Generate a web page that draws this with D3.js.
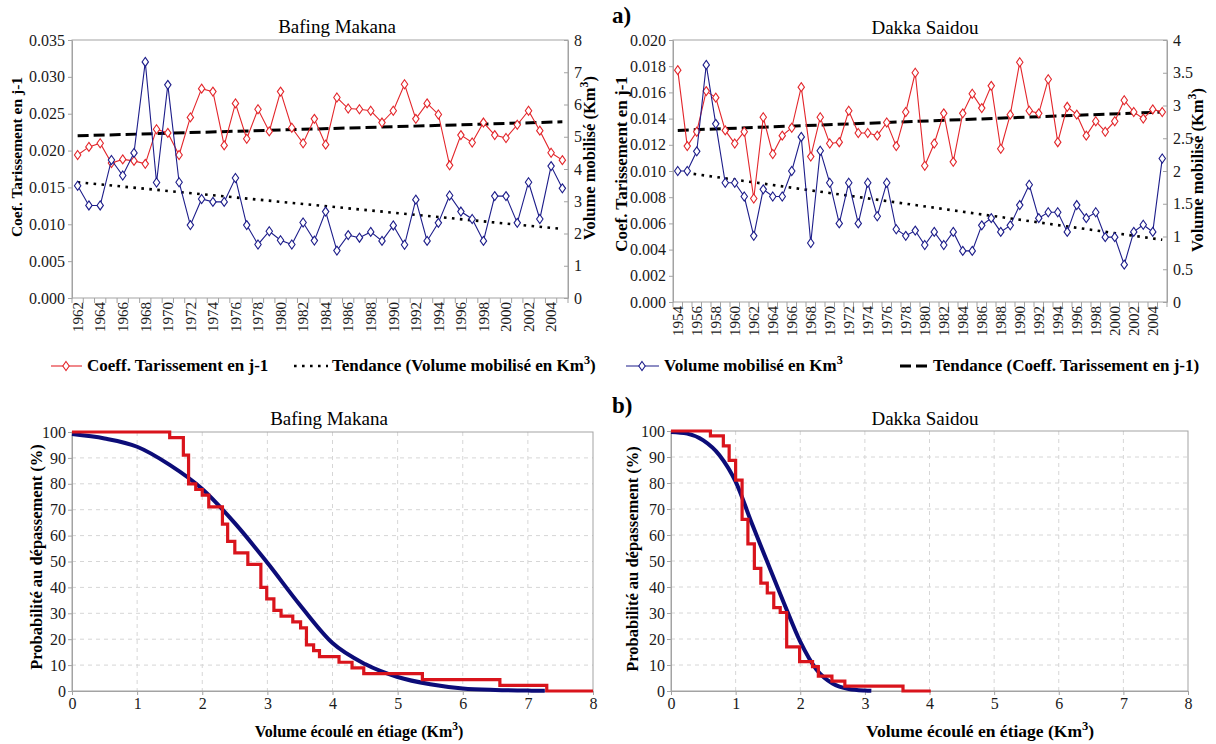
<!DOCTYPE html>
<html>
<head>
<meta charset="utf-8">
<script src="https://cdn.jsdelivr.net/npm/d3@7"></script>
<style>
  body { margin: 0; background: #fff; }
  svg text { font-family: "Liberation Serif", "Times New Roman", serif; }
</style>
</head>
<body>
<svg id="chart" width="1216" height="744"></svg>
<script>
// ---- data: top panels (a) ----
const yearsBafing = d3.range(1962, 2006);
const coeffBafing = [0.0194, 0.0205, 0.0210, 0.0183, 0.0188, 0.0186, 0.0182, 0.0229, 0.0224, 0.0194,
    0.0245, 0.0284, 0.0280, 0.0207, 0.0264, 0.0216, 0.0256, 0.0226, 0.0280, 0.0231,
    0.0210, 0.0243, 0.0208, 0.0272, 0.0257, 0.0256, 0.0254, 0.0238, 0.0254, 0.0290,
    0.0243, 0.0264, 0.0249, 0.0180, 0.0221, 0.0211, 0.0238, 0.0221, 0.0217, 0.0235,
    0.0254, 0.0227, 0.0197, 0.0187];
const volBafing = [3.48, 2.87, 2.87, 4.28, 3.80, 4.50, 7.32, 3.58, 6.61, 3.59,
    2.26, 3.07, 2.98, 2.98, 3.72, 2.26, 1.66, 2.07, 1.79, 1.66,
    2.34, 1.78, 2.68, 1.47, 1.95, 1.87, 2.05, 1.77, 2.25, 1.65,
    3.05, 1.77, 2.33, 3.18, 2.68, 2.45, 1.77, 3.16, 3.16, 2.33,
    3.59, 2.45, 4.09, 3.40];
const trendCoeffBafing = [0.0220, 0.0239];   // first year, last year
const trendVolBafing = [3.59, 2.14];

const yearsDakka = d3.range(1954, 2006);
const coeffDakka = [0.0177, 0.0119, 0.0130, 0.0161, 0.0156, 0.0131, 0.0121, 0.0130, 0.0079, 0.0141,
    0.0113, 0.0127, 0.0133, 0.0164, 0.0111, 0.0141, 0.0121, 0.0122, 0.0146, 0.0129,
    0.0129, 0.0127, 0.0137, 0.0119, 0.0145, 0.0175, 0.0104, 0.0121, 0.0144, 0.0107,
    0.0144, 0.0159, 0.0148, 0.0165, 0.0117, 0.0143, 0.0183, 0.0146, 0.0144, 0.0170,
    0.0122, 0.0149, 0.0143, 0.0127, 0.0138, 0.0130, 0.0138, 0.0154, 0.0145, 0.0140,
    0.0147, 0.0145];
const volDakka = [2.00, 2.00, 2.30, 3.62, 2.72, 1.82, 1.82, 1.61, 1.01, 1.72,
    1.61, 1.61, 2.00, 2.52, 0.90, 2.31, 1.82, 1.20, 1.82, 1.20,
    1.82, 1.31, 1.82, 1.11, 1.01, 1.09, 0.87, 1.07, 0.87, 1.07,
    0.78, 0.78, 1.17, 1.28, 1.07, 1.17, 1.48, 1.79, 1.28, 1.37,
    1.37, 1.07, 1.48, 1.28, 1.37, 0.99, 0.99, 0.57, 1.07, 1.18,
    1.07, 2.19];
const trendCoeffDakka = [0.0131, 0.0145];
const trendVolDakka = [1.99, 0.95];

// ---- data: bottom panels (b) ----
// empirical exceedance (step) : start of each step and its level
const stepBafingX = [0, 1.50, 1.71, 1.79, 1.90, 2.00, 2.10, 2.31, 2.39, 2.50, 2.70, 2.90, 2.99, 3.10,
    3.21, 3.39, 3.51, 3.60, 3.71, 3.80, 4.10, 4.30, 4.48, 5.38, 6.57, 7.29, 8.00];
const stepBafingP = [100, 97.8, 91.1, 80.0, 77.8, 75.6, 71.1, 64.4, 57.8, 53.3, 48.9, 40.0, 35.6, 31.1,
    28.9, 26.7, 24.4, 17.8, 15.6, 13.3, 11.1, 8.9, 6.7, 4.4, 2.2, 0, 0];
// fitted curve
const fitBafingX = [0, 0.5, 1, 1.5, 2, 2.5, 3, 3.5, 4, 4.5, 5, 5.5, 6, 6.5, 7, 7.26];
const fitBafingP = [99.2, 97.5, 94.3, 87.3, 78.0, 64.8, 49.5, 33.2, 18.5, 10.4, 5.4, 2.6, 1.0, 0.4, 0.15, 0.1];

const stepDakkaX = [0, 0.61, 0.81, 0.90, 1.00, 1.10, 1.19, 1.29, 1.39, 1.49, 1.59, 1.69, 1.79, 1.99,
    2.19, 2.28, 2.49, 2.69, 3.59, 4.02];
const stepDakkaP = [100, 98.1, 94.3, 88.7, 81.1, 66.0, 56.6, 47.2, 41.5, 37.7, 32.1, 30.2, 17.0, 11.3,
    9.4, 5.7, 3.8, 1.9, 0, 0];
const fitDakkaX = [0, 0.25, 0.5, 0.75, 1, 1.25, 1.5, 1.75, 2, 2.25, 2.5, 2.75, 3, 3.1];
const fitDakkaP = [99.6, 99.0, 96.4, 90.7, 80.5, 64.5, 49.0, 33.7, 19.0, 8.3, 2.9, 0.8, 0.2, 0.1];

const RED = "#e3262b";
const BLUE = "#1d1d8a";
const AXIS = "#a3a3a3";

const svg = d3.select("#chart");

const diamond = "M0,-4.5L3.2,0L0,4.5L-3.2,0Z";

function styleAxis(g, size) {
    g.attr("font-family", null);
    g.select(".domain").attr("stroke", AXIS);
    g.selectAll(".tick line").attr("stroke", AXIS);
    g.selectAll(".tick text").attr("fill", "#1a1a1a").style("font-size", size + "px");
}

// Km3 style text with superscript
function kmText(sel, before, after) {
    sel.append("tspan").text(before);
    sel.append("tspan").attr("dy", -7).style("font-size", "0.72em").text("3");
    if (after) sel.append("tspan").attr("dy", 7).text(after);
}

function drawTop(o) {
    const x = d3.scalePoint().domain(o.years).range([o.left, o.right]).padding(0.5);
    const yL = d3.scaleLinear().domain([0, o.maxL]).range([o.bottom, o.top]);
    const yR = d3.scaleLinear().domain([0, o.maxR]).range([o.bottom, o.top]);
    const g = svg.append("g");

    g.append("rect")
        .attr("x", o.left).attr("y", o.top)
        .attr("width", o.right - o.left).attr("height", o.bottom - o.top)
        .attr("fill", "none").attr("stroke", AXIS);

    const axL = g.append("g")
        .attr("transform", `translate(${o.left},0)`)
        .call(d3.axisLeft(yL).tickValues(o.ticksL).tickFormat(d3.format(".3f"))
            .tickSizeInner(4).tickSizeOuter(0).tickPadding(3));
    styleAxis(axL, 16);

    const axR = g.append("g")
        .attr("transform", `translate(${o.right},0)`)
        .call(d3.axisRight(yR).tickValues(o.ticksR).tickFormat(d => String(d))
            .tickSizeInner(-4).tickSizeOuter(0).tickPadding(6));
    styleAxis(axR, 16);

    // category ticks between years
    const step = x.step();
    g.append("g").selectAll("line")
        .data(d3.range(o.years.length + 1))
        .join("line")
        .attr("x1", i => o.left + i * step).attr("x2", i => o.left + i * step)
        .attr("y1", o.bottom).attr("y2", o.bottom + 5)
        .attr("stroke", AXIS);

    g.append("g").selectAll("text")
        .data(o.years.filter(yr => (yr - o.years[0]) % 2 === 0))
        .join("text")
        .attr("transform", d => `translate(${x(d)},${o.bottom + 4}) rotate(-90)`)
        .attr("text-anchor", "end")
        .attr("dy", "0.35em")
        .style("font-size", "15px")
        .attr("fill", "#1a1a1a")
        .text(d => d);

    const first = o.years[0], last = o.years[o.years.length - 1];

    // trend of volume (dotted, right axis)
    g.append("path")
        .datum([[first, o.trendVol[0]], [last, o.trendVol[1]]])
        .attr("d", d3.line().x(d => x(d[0])).y(d => yR(d[1])))
        .attr("fill", "none").attr("stroke", "#000").attr("stroke-width", 2.6)
        .attr("stroke-dasharray", "2.6,5.4");

    // trend of coefficient (dashed, left axis)
    g.append("path")
        .datum([[first, o.trendCoeff[0]], [last, o.trendCoeff[1]]])
        .attr("d", d3.line().x(d => x(d[0])).y(d => yL(d[1])))
        .attr("fill", "none").attr("stroke", "#000").attr("stroke-width", 3)
        .attr("stroke-dasharray", "11,5");

    const series = [
        { vals: o.coeff, y: yL, color: RED },
        { vals: o.vol, y: yR, color: BLUE }
    ];
    series.forEach(s => {
        const pts = o.years.map((yr, i) => [yr, s.vals[i]]);
        g.append("path")
            .datum(pts)
            .attr("d", d3.line().x(d => x(d[0])).y(d => s.y(d[1])))
            .attr("fill", "none").attr("stroke", s.color).attr("stroke-width", 1.1);
        g.append("g").selectAll("path")
            .data(pts)
            .join("path")
            .attr("d", diamond)
            .attr("transform", d => `translate(${x(d[0])},${s.y(d[1])})`)
            .attr("fill", "#fff").attr("stroke", s.color).attr("stroke-width", 1.1);
    });

    // titles and axis labels
    g.append("text")
        .attr("x", o.titleX).attr("y", o.titleY)
        .attr("text-anchor", "middle")
        .style("font-size", "19px")
        .text(o.title);

    g.append("text")
        .attr("transform", `translate(${o.labelLX},${o.labelLY}) rotate(-90)`)
        .attr("text-anchor", "middle")
        .style("font-size", o.labelLSize + "px").style("font-weight", "bold")
        .text("Coef. Tarissement en j-1");

    g.append("text")
        .attr("transform", `translate(${o.labelRX},${o.labelRY}) rotate(-90)`)
        .attr("text-anchor", "middle")
        .style("font-size", "16.5px").style("font-weight", "bold")
        .call(kmText, "Volume mobilisé (Km", ")");
}

function drawBottom(o) {
    const x = d3.scaleLinear().domain([0, 8]).range([o.left, o.right]);
    const y = d3.scaleLinear().domain([0, 100]).range([o.bottom, o.top]);
    const g = svg.append("g");

    // grid
    g.append("g").selectAll("line")
        .data(d3.range(1, 8))
        .join("line")
        .attr("x1", d => x(d)).attr("x2", d => x(d))
        .attr("y1", o.top).attr("y2", o.bottom)
        .attr("stroke", "#d6d6d6").attr("stroke-dasharray", "4,4");
    g.append("g").selectAll("line")
        .data(d3.range(10, 100, 10))
        .join("line")
        .attr("x1", o.left).attr("x2", o.right)
        .attr("y1", d => y(d)).attr("y2", d => y(d))
        .attr("stroke", "#d6d6d6").attr("stroke-dasharray", "4,4");

    g.append("rect")
        .attr("x", o.left).attr("y", o.top)
        .attr("width", o.right - o.left).attr("height", o.bottom - o.top)
        .attr("fill", "none").attr("stroke", AXIS);

    const axX = g.append("g")
        .attr("transform", `translate(0,${o.bottom})`)
        .call(d3.axisBottom(x).tickValues(d3.range(0, 9)).tickSizeInner(4).tickSizeOuter(0).tickPadding(3));
    styleAxis(axX, 16);
    const axY = g.append("g")
        .attr("transform", `translate(${o.left},0)`)
        .call(d3.axisLeft(y).tickValues(d3.range(0, 101, 10)).tickSizeInner(4).tickSizeOuter(0).tickPadding(2));
    styleAxis(axY, 16);

    // fitted curve
    g.append("path")
        .datum(o.fitX.map((v, i) => [v, o.fitP[i]]))
        .attr("d", d3.line().curve(d3.curveMonotoneX).x(d => x(d[0])).y(d => y(d[1])))
        .attr("fill", "none").attr("stroke", "#0c0c78").attr("stroke-width", 4);

    // empirical steps
    g.append("path")
        .datum(o.stepX.map((v, i) => [v, o.stepP[i]]))
        .attr("d", d3.line().curve(d3.curveStepAfter).x(d => x(d[0])).y(d => y(d[1])))
        .attr("fill", "none").attr("stroke", "#d9141c").attr("stroke-width", 3.2);

    g.append("text")
        .attr("x", o.titleX).attr("y", o.titleY)
        .attr("text-anchor", "middle")
        .style("font-size", "19px")
        .text(o.title);

    g.append("text")
        .attr("transform", `translate(${o.labelYX},${o.labelYY}) rotate(-90)`)
        .attr("text-anchor", "middle")
        .style("font-size", "16.5px").style("font-weight", "bold")
        .text("Probabilité au dépassement (%)");

    g.append("text")
        .attr("x", o.labelXX).attr("y", o.labelXY)
        .attr("text-anchor", "middle")
        .style("font-size", o.labelXSize + "px").style("font-weight", "bold")
        .call(kmText, "Volume écoulé en étiage (Km", ")");
}

drawTop({
    years: yearsBafing, coeff: coeffBafing, vol: volBafing,
    trendCoeff: trendCoeffBafing, trendVol: trendVolBafing,
    left: 72, right: 568, top: 40, bottom: 298,
    maxL: 0.035, maxR: 8,
    ticksL: d3.range(0, 0.0351, 0.005), ticksR: d3.range(0, 9, 1),
    title: "Bafing Makana", titleX: 337, titleY: 33,
    labelLX: 22, labelLY: 157, labelLSize: 15.5,
    labelRX: 595, labelRY: 158
});

drawTop({
    years: yearsDakka, coeff: coeffDakka, vol: volDakka,
    trendCoeff: trendCoeffDakka, trendVol: trendVolDakka,
    left: 673, right: 1167, top: 40, bottom: 302,
    maxL: 0.020, maxR: 4,
    ticksL: d3.range(0, 0.0201, 0.002), ticksR: d3.range(0, 4.01, 0.5),
    title: "Dakka Saidou", titleX: 925, titleY: 34,
    labelLX: 627, labelLY: 164, labelLSize: 17,
    labelRX: 1203, labelRY: 170
});

drawBottom({
    stepX: stepBafingX, stepP: stepBafingP, fitX: fitBafingX, fitP: fitBafingP,
    left: 72, right: 593, top: 432, bottom: 691,
    title: "Bafing Makana", titleX: 329, titleY: 425,
    labelYX: 42, labelYY: 557,
    labelXX: 359, labelXY: 737, labelXSize: 16
});

drawBottom({
    stepX: stepDakkaX, stepP: stepDakkaP, fitX: fitDakkaX, fitP: fitDakkaP,
    left: 671, right: 1188, top: 431, bottom: 691,
    title: "Dakka Saidou", titleX: 925, titleY: 425,
    labelYX: 638, labelYY: 559,
    labelXX: 980, labelXY: 737, labelXSize: 17.5
});

// panel letters
svg.append("text").attr("x", 612).attr("y", 23)
    .style("font-size", "23px").style("font-weight", "bold").text("a)");
svg.append("text").attr("x", 612).attr("y", 413)
    .style("font-size", "23px").style("font-weight", "bold").text("b)");

// ---- legend ----
const legend = svg.append("g").style("font-size", "17px").style("font-weight", "bold");
const legY = 366;

legend.append("line").attr("x1", 51).attr("x2", 82).attr("y1", legY).attr("y2", legY)
    .attr("stroke", RED).attr("stroke-width", 1.1);
legend.append("path").attr("d", diamond).attr("transform", `translate(66,${legY})`)
    .attr("fill", "#fff").attr("stroke", RED).attr("stroke-width", 1.1);
legend.append("text").attr("x", 87).attr("y", legY + 5).text("Coeff. Tarissement en j-1");

legend.append("line").attr("x1", 294).attr("x2", 328).attr("y1", legY).attr("y2", legY)
    .attr("stroke", "#000").attr("stroke-width", 2.6).attr("stroke-dasharray", "2.6,5.4");
legend.append("text").attr("x", 332).attr("y", legY + 5)
    .call(kmText, "Tendance (Volume mobilisé en Km", ")");

legend.append("line").attr("x1", 626).attr("x2", 659).attr("y1", legY).attr("y2", legY)
    .attr("stroke", BLUE).attr("stroke-width", 1.1);
legend.append("path").attr("d", diamond).attr("transform", `translate(642,${legY})`)
    .attr("fill", "#fff").attr("stroke", BLUE).attr("stroke-width", 1.1);
legend.append("text").attr("x", 664).attr("y", legY + 5)
    .call(kmText, "Volume mobilisé en Km", null);

legend.append("line").attr("x1", 900).attr("x2", 928).attr("y1", legY).attr("y2", legY)
    .attr("stroke", "#000").attr("stroke-width", 3).attr("stroke-dasharray", "11,5");
legend.append("text").attr("x", 933).attr("y", legY + 5).text("Tendance (Coeff. Tarissement en j-1)");
</script>
</body>
</html>
